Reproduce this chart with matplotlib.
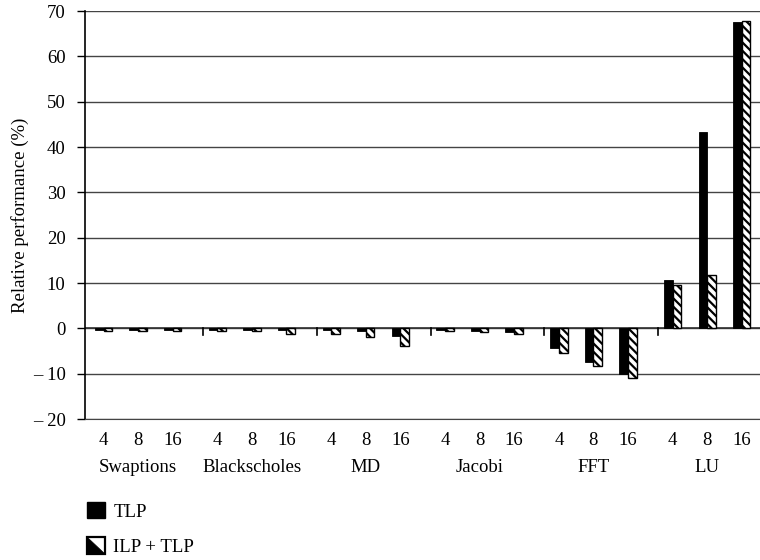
import numpy as np
import matplotlib
matplotlib.use("Agg")
import matplotlib.pyplot as plt
from matplotlib.patches import Patch, Rectangle, Polygon
from matplotlib.legend_handler import HandlerBase
import matplotlib.transforms as mtransforms

# Données
benchmarks = ["Swaptions", "Blackscholes", "MD", "Jacobi", "FFT", "LU"]
threads = ["4", "8", "16"]
tlp = [
    [-0.4, -0.4, -0.4],
    [-0.4, -0.4, -0.3],
    [-0.3, -0.6, -1.8],
    [-0.4, -0.5, -0.8],
    [-4.4, -7.4, -10.0],
    [10.6, 43.4, 67.6],
]
ilp_tlp = [
    [-0.5, -0.5, -0.5],
    [-0.5, -0.5, -1.3],
    [-1.3, -2.0, -3.8],
    [-0.5, -0.8, -1.2],
    [-5.4, -8.4, -11.0],
    [9.5, 11.7, 67.9],
]
yticks = [-20, -10, 0, 10, 20, 30, 40, 50, 60, 70]
ytick_labels = ["\u2013 20", "\u2013 10", "0", "10", "20", "30", "40", "50", "60", "70"]

FS = 13.5


class HatchIcon(HandlerBase):
    # carré blanc bordé avec un triangle noir (icône de la légende)
    def create_artists(self, legend, orig_handle, xdescent, ydescent,
                       width, height, fontsize, trans):
        x0, y0 = -xdescent, -ydescent
        box = Rectangle((x0, y0), width, height, facecolor='white',
                        edgecolor='black', linewidth=1.6, transform=trans)
        tri = Polygon([(x0, y0 + height), (x0, y0), (x0 + width, y0)],
                      closed=True, facecolor='black', edgecolor='black',
                      linewidth=0.5, transform=trans)
        return [box, tri]


def main():
    plt.rcParams['font.family'] = ['Liberation Serif', 'DejaVu Serif']
    plt.rcParams['hatch.linewidth'] = 1.6

    fig = plt.figure(figsize=(7.6, 5.6), dpi=100)
    ax = fig.add_axes([85 / 760, 1 - 419 / 560, 1 - 85 / 760, 408 / 560])

    group_step = 3.3
    width = 0.25
    centers = np.arange(len(benchmarks)) * group_step
    offsets = np.arange(len(threads)) - 1.0

    xs = (centers[:, None] + offsets[None, :]).ravel()
    v1 = np.array(tlp).ravel()
    v2 = np.array(ilp_tlp).ravel()

    ax.bar(xs - width / 2, v1, width, color='black', edgecolor='black',
           linewidth=0.6, zorder=3)
    ax.bar(xs + width / 2, v2, width, color='white', edgecolor='black',
           hatch='\\\\\\\\', linewidth=1.0, zorder=3)

    # Axes et grille
    ax.set_ylim(-20, 70)
    ax.set_xlim(-1.54, 18.03)
    ax.set_yticks(yticks)
    ax.set_yticklabels(ytick_labels, fontsize=FS)
    ax.yaxis.grid(True, color='#444444', linewidth=1.0, zorder=0)
    ax.set_axisbelow(True)
    ax.tick_params(axis='y', length=6, width=1, direction='out', pad=8)
    ax.set_xticks([])
    for side in ['top', 'right']:
        ax.spines[side].set_visible(False)
    ax.spines['bottom'].set_color('#444444')
    ax.spines['left'].set_linewidth(1.2)
    ax.axhline(0, color='#333333', linewidth=1.2, zorder=2)

    # Petits traits de séparation des groupes
    trans = mtransforms.blended_transform_factory(ax.transData, ax.transAxes)
    zero_frac = 20 / 90
    for c in centers[1:]:
        ax.plot([c - 1.42, c - 1.42], [zero_frac, zero_frac - 0.016],
                transform=trans, color='black', linewidth=1.2,
                clip_on=False, zorder=4)

    # Étiquettes de catégories
    for x, lab in zip(xs, threads * len(benchmarks)):
        ax.text(x, -0.052, lab, transform=trans, ha='center', va='center',
                fontsize=FS)
    for c, name in zip(centers, benchmarks):
        ax.text(c, -0.118, name, transform=trans, ha='center', va='center',
                fontsize=FS)

    ax.set_ylabel("Relative performance (%)", fontsize=FS, labelpad=3)

    handles = [Patch(facecolor='black', edgecolor='black'),
               Patch(facecolor='white', edgecolor='black')]
    fig.legend(handles, ["TLP", "ILP + TLP"], loc='upper left',
               bbox_to_anchor=(87 / 760, 1 - 502 / 560), frameon=False,
               fontsize=FS, handlelength=0.95, handleheight=0.95,
               handletextpad=0.45, labelspacing=0.9, borderpad=0,
               borderaxespad=0, handler_map={handles[1]: HatchIcon()})

    fig.savefig("out.png", dpi=100)


if __name__ == "__main__":
    main()
